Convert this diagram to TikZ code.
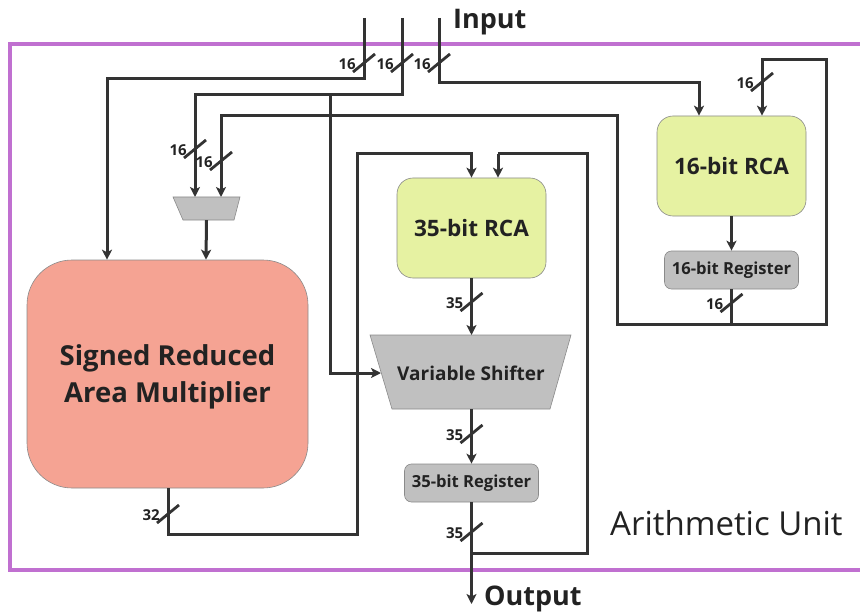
\documentclass[tikz,border=0pt]{standalone}
\usepackage{fontspec}
\setmainfont{Open Sans}
\usetikzlibrary{arrows.meta}
\definecolor{wire}{HTML}{333333}
\definecolor{txt}{HTML}{222222}
\definecolor{framec}{HTML}{C070D0}
\definecolor{rcafill}{HTML}{E6F2A2}
\definecolor{greyfill}{HTML}{C0C0C0}
\definecolor{multfill}{HTML}{F5A393}
\definecolor{edgec}{HTML}{8A8A8A}
\begin{document}
\begin{tikzpicture}[x=1pt,y=-1pt,
  wire/.style={draw=wire, line width=3pt},
  arr/.style={wire, -{Stealth[length=10pt,width=10pt,inset=2.5pt]}},
  busslash/.style={draw=wire, line width=2.8pt},
  lbl/.style={font=\fontsize{15}{15}\selectfont\bfseries, text=txt, inner sep=0pt},
  rca/.style={draw=edgec, line width=0.6pt, fill=rcafill, rounded corners=16pt,
    minimum width=149pt, minimum height=100pt,
    font=\fontsize{22.6}{22.6}\selectfont\bfseries, text=txt},
  reg/.style={draw=edgec, line width=0.6pt, fill=greyfill, rounded corners=7pt,
    minimum width=134pt, minimum height=38pt,
    font=\fontsize{16.6}{16.6}\selectfont\bfseries, text=txt},
  mult/.style={draw=edgec, line width=0.6pt, fill=multfill, rounded corners=45pt,
    minimum width=281pt, minimum height=228pt},
  trap/.style={draw=edgec, line width=0.6pt, fill=greyfill},
  pics/bus/.style={code={
    \draw[busslash] (-11,9) -- (11,-9);
    \node[lbl, anchor=east] (-l) at (-8,1) {#1};
  }}
]
\useasboundingbox (0,0) rectangle (860,615);

% frame
\draw[framec, line width=3.5pt] (866,44) -- (10,44) -- (10,570) -- (866,570);
\node[anchor=west, font=\fontsize{33}{33}\selectfont, text=txt, inner sep=0pt] (au) at (610,523) {Arithmetic Unit};

% blocks
\node[rca] (rca16) at (731.5,166) {16-bit RCA};
\node[reg] (reg16) at (731.5,270) {16-bit Register};
\node[rca] (rca35) at (471.5,228) {35-bit RCA};
\node[reg] (reg35) at (471.5,483) {35-bit Register};
\node[mult] (mult) at (167.5,374) {};
\node[align=center, font=\fontsize{27.5}{37}\selectfont\bfseries, text=txt] (multtxt) at (167.5,377) {Signed Reduced\\Area Multiplier};

\path[trap] (370,335) -- (571,335) -- (550,409) -- (392,409) -- cycle;
\node[font=\fontsize{19}{19}\selectfont\bfseries, text=txt] (shift) at (471,373) {Variable Shifter};
\path[trap] (173,197) -- (240,197) -- (234,220) -- (183,220) -- cycle;
\node[inner sep=0pt, minimum width=67pt, minimum height=23pt] (mux) at (206.5,208.5) {};

% coordinates
\coordinate (inA) at (364,18);
\coordinate (inB) at (402,18);
\coordinate (inC) at (439,18);
\coordinate (jB) at (330,95);
\coordinate (muxL) at (195,197);
\coordinate (muxR) at (221,197);
\coordinate (shL) at (381,373);
\coordinate (shT) at (471.5,335);
\coordinate (shB) at (471.5,409);
\coordinate (jR16) at (731.5,324);
\coordinate (jR35) at (471.5,553);
\coordinate (outEnd) at (471.5,604);

% texts
\node[anchor=west, font=\fontsize{27}{27}\selectfont\bfseries, text=txt, inner sep=0pt] (input) at (453,22) {Input};
\node[anchor=west, font=\fontsize{27}{27}\selectfont\bfseries, text=txt, inner sep=0pt] (output) at (484,599) {Output};

% connectors
\draw[arr] (inA) -- (364,79) -- (107,79) -- ([xshift=-60.5pt]mult.north);
\draw[arr] (inB) -- (402,95) -- (195,95) -- (muxL);
\draw[arr] (jB) -- (330,373) -- (shL);
\draw[arr] (inC) -- (439,83) -- (699,83) -- ([xshift=-32.5pt]rca16.north);
\draw[arr] (mux.south) -- ([xshift=38.5pt]mult.north);
\draw[arr] (rca16.south) -- (reg16.north);
\draw[wire] (reg16.south) -- (jR16);
\draw[arr] (jR16) -- (617,324) -- (617,116) -- (221,116) -- (muxR);
\draw[arr] (jR16) -- (826,324) -- (826,60) -- (762,60) -- ([xshift=30.5pt]rca16.north);
\draw[arr] ([xshift=0.5pt]mult.south) -- (168,534) -- (357,534) -- (357,154) -- (471.5,154) -- (rca35.north);
\draw[arr] (rca35.south) -- (shT);
\draw[arr] (shB) -- (reg35.north);
\draw[arr] (reg35.south) -- (outEnd);
\draw[wire] (jR35) -- (587,553) -- (587,154) -- (498,154);
\draw[arr] (498,154) -- ([xshift=26.5pt]rca35.north);

% bus slashes
\pic (b1) at (364,63) {bus=16};
\pic (b2) at (402,63) {bus=16};
\pic (b3) at (439,63) {bus=16};
\pic (b4) at (195,149) {bus=16};
\pic (b5) at (221,161) {bus=16};
\pic (b6) at (762,82) {bus=16};
\pic (b7) at (731.5,303) {bus=16};
\pic (b8) at (471.5,302) {bus=35};
\pic (b9) at (471.5,434) {bus=35};
\pic (b10) at (471.5,532) {bus=35};
\pic (b11) at (168,514) {bus=32};
\end{tikzpicture}
\end{document}
